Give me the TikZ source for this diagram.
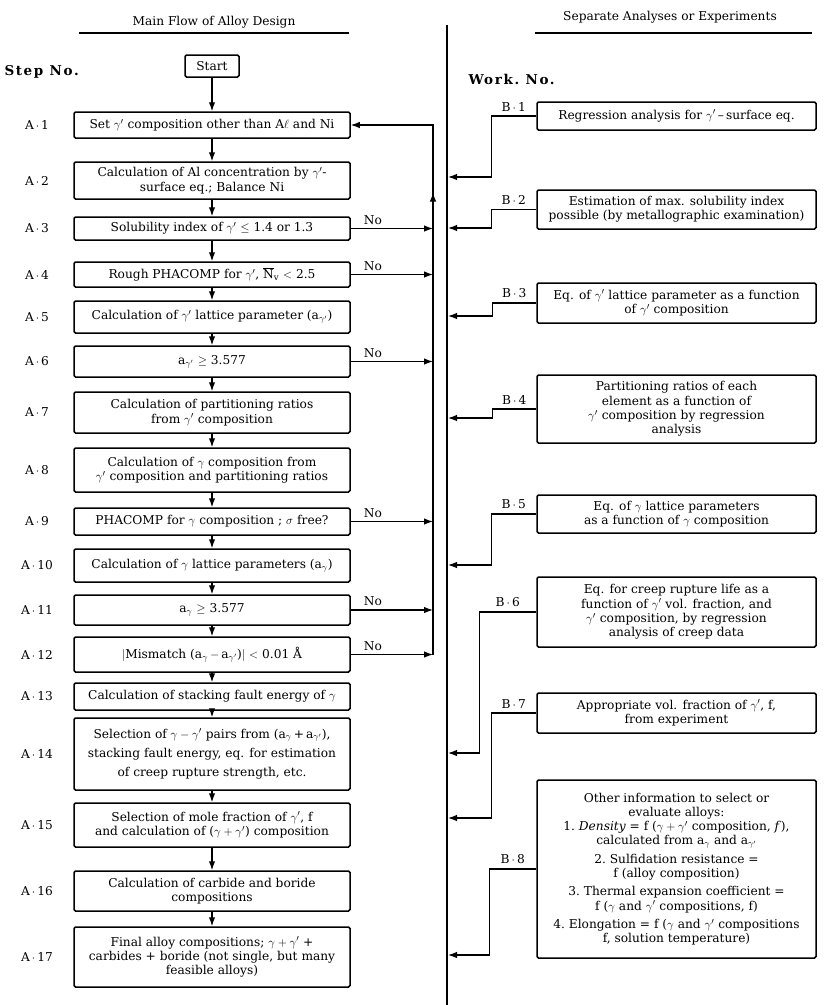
\documentclass[tikz,border=0pt]{standalone}
\usepackage{amsmath, amssymb}
\usepackage{fontspec}
\setmainfont{DejaVu Serif}
\usepackage{tikz}
\usetikzlibrary{arrows.meta, decorations.markings}

\tikzset{
  mainbox/.style={draw, line width=1.5pt, rounded corners=1.5pt, minimum width=276pt, align=center, inner sep=1pt},
  workbox/.style={mainbox, minimum width=279pt},
  flow/.style={->, line width=1.2pt},
  nolbl/.style={above, pos=0.27},
  wlbl/.style={above, yshift=1pt},
  headlbl/.style={font=\fontsize{13.5}{15}\selectfont\bfseries\addfontfeature{LetterSpace=12}},
  uparrow/.style={postaction={decorate}, decoration={markings, mark=at position 462pt with {\arrow{>}}}}
}

\begin{document}
\begin{tikzpicture}[x=1pt, y=-1pt, >={Latex[length=9pt, width=6.5pt]}, font=\fontsize{12.2}{14.3}\selectfont]
      \useasboundingbox (0,0) rectangle (825,1005);

      % Column headings
      \node (mainhd) at (214,22) {Main Flow of Alloy Design};
      \draw[line width=1.3pt] (79,33) -- (349,33);
      \node (workhd) at (670,17) {Separate Analyses or Experiments};
      \draw[line width=1.3pt] (535,33) -- (812,33);
      \node[headlbl, anchor=west] (stephd) at (1,72) {Step No.};
      \node[headlbl, anchor=west] (workno) at (465,79) {Work.\ No.};

      % Dividing line and return line
      \coordinate (divtop) at (447,25);
      \coordinate (divbot) at (447,1005);
      \coordinate (loop) at (433,0);
      \coordinate (stepcol) at (37,0);
      \draw[line width=1.9pt] (divtop) -- (divbot);

      % Main flow
      \node[mainbox, minimum width=54pt, minimum height=22pt] (start) at (212,66) {Start};
      \node[mainbox, minimum height=26pt] (a1) at (212,125) {Set $\gamma'$ composition other than A$\ell$ and Ni};
      \node[mainbox, minimum height=37pt] (a2) at (212,180.5) {Calculation of Al concentration by $\gamma'$-\\surface eq.; Balance Ni};
      \node[mainbox, minimum height=23pt] (a3) at (212,228.5) {Solubility index of $\gamma'$ $\leq$ 1.4 or 1.3};
      \node[mainbox, minimum height=25pt] (a4) at (212,274.5) {Rough PHACOMP for $\gamma'$, $\overline{\mbox{N}}_{\mathrm{v}}$ $<$ 2.5};
      \node[mainbox, minimum height=32pt] (a5) at (212,317) {Calculation of $\gamma'$ lattice parameter (a$_{\gamma'}$)};
      \node[mainbox, minimum height=31pt] (a6) at (212,361.5) {a$_{\gamma'}$ $\geq$ 3.577};
      \node[mainbox, minimum height=41pt] (a7) at (212,412.5) {Calculation of partitioning ratios\\from $\gamma'$ composition};
      \node[mainbox, minimum height=44pt] (a8) at (212,470) {Calculation of $\gamma$ composition from\\$\gamma'$ composition and partitioning ratios};
      \node[mainbox, minimum height=27pt] (a9) at (212,521.5) {PHACOMP for $\gamma$ composition ; $\sigma$ free?};
      \node[mainbox, minimum height=33pt] (a10) at (212,565.5) {Calculation of $\gamma$ lattice parameters (a$_\gamma$)};
      \node[mainbox, minimum height=30pt] (a11) at (212,610) {a$_\gamma$ $\geq$ 3.577};
      \node[mainbox, minimum height=35pt] (a12) at (212,654.5) {$|$Mismatch (a$_\gamma$\,$-$\,a$_{\gamma'}$)$|$ $<$ 0.01 Å};
      \node[mainbox, minimum height=27pt] (a13) at (212,696.5) {Calculation of stacking fault energy of $\gamma$};
      \node[mainbox, minimum height=72pt] (a14) at (212,754) {Selection of $\gamma-\gamma'$ pairs from (a$_\gamma$\,+\,a$_{\gamma'}$),\\[5pt]stacking fault energy, eq. for estimation\\[5pt]of creep rupture strength, etc.};
      \node[mainbox, minimum height=44pt] (a15) at (212,825) {Selection of mole fraction of $\gamma'$, f\\and calculation of ($\gamma+\gamma'$) composition};
      \node[mainbox, minimum height=40pt] (a16) at (212,891) {Calculation of carbide and boride\\compositions};
      \node[mainbox, minimum height=60pt] (a17) at (212,957) {Final alloy compositions; $\gamma+\gamma'$ +\\carbides + boride (not single, but many\\feasible alloys)};

      % Step numbers
      \node (s1) at (a1 -| stepcol) {A$\,\cdot\,$1};
      \node (s2) at (a2 -| stepcol) {A$\,\cdot\,$2};
      \node (s3) at (a3 -| stepcol) {A$\,\cdot\,$3};
      \node (s4) at (a4 -| stepcol) {A$\,\cdot\,$4};
      \node (s5) at (a5 -| stepcol) {A$\,\cdot\,$5};
      \node (s6) at (a6 -| stepcol) {A$\,\cdot\,$6};
      \node (s7) at (a7 -| stepcol) {A$\,\cdot\,$7};
      \node (s8) at (a8 -| stepcol) {A$\,\cdot\,$8};
      \node (s9) at (a9 -| stepcol) {A$\,\cdot\,$9};
      \node (s10) at (a10 -| stepcol) {A$\,\cdot\,$10};
      \node (s11) at (a11 -| stepcol) {A$\,\cdot\,$11};
      \node (s12) at (a12 -| stepcol) {A$\,\cdot\,$12};
      \node (s13) at (a13 -| stepcol) {A$\,\cdot\,$13};
      \node (s14) at (a14 -| stepcol) {A$\,\cdot\,$14};
      \node (s15) at (a15 -| stepcol) {A$\,\cdot\,$15};
      \node (s16) at (a16 -| stepcol) {A$\,\cdot\,$16};
      \node (s17) at (a17 -| stepcol) {A$\,\cdot\,$17};

      % Downward arrows
      \draw[flow] (start) -- (a1);
      \draw[flow] (a1) -- (a2);
      \draw[flow] (a2) -- (a3);
      \draw[flow] (a3) -- (a4);
      \draw[flow] (a4) -- (a5);
      \draw[flow] (a5) -- (a6);
      \draw[flow] (a6) -- (a7);
      \draw[flow] (a7) -- (a8);
      \draw[flow] (a8) -- (a9);
      \draw[flow] (a9) -- (a10);
      \draw[flow] (a10) -- (a11);
      \draw[flow] (a11) -- (a12);
      \draw[flow] (a12) -- (a13);
      \draw[flow] (a13) -- (a14);
      \draw[flow] (a14) -- (a15);
      \draw[flow] (a15) -- (a16);
      \draw[flow] (a16) -- (a17);

      % No branches back to A-1
      \draw[flow] (a3) -- node[nolbl] {No} (a3 -| loop);
      \draw[flow] (a4) -- node[nolbl] {No} (a4 -| loop);
      \draw[flow] (a6) -- node[nolbl] {No} (a6 -| loop);
      \draw[flow] (a9) -- node[nolbl] {No} (a9 -| loop);
      \draw[flow] (a11) -- node[nolbl] {No} (a11 -| loop);
      \draw[flow] (a12) -- node[nolbl] {No} (a12 -| loop);
      \draw[flow, uparrow] (a12 -| loop) -- (a1 -| loop) -- (a1);

      % Separate works
      \node[workbox, minimum height=28pt] (b1) at (676.5,116) {Regression analysis for $\gamma'$\,--\,surface eq.};
      \node[workbox, minimum height=39pt] (b2) at (676.5,209.5) {Estimation of max. solubility index\\possible (by metallographic examination)};
      \node[workbox, minimum height=40pt] (b3) at (676.5,303) {Eq. of $\gamma'$ lattice parameter as a function\\of $\gamma'$ composition};
      \node[workbox, minimum height=68pt] (b4) at (676.5,409) {Partitioning ratios of each\\element as a function of\\$\gamma'$ composition by regression\\analysis};
      \node[workbox, minimum height=38pt] (b5) at (676.5,514) {Eq. of $\gamma$ lattice parameters\\as a function of $\gamma$ composition};
      \node[workbox, minimum height=70pt] (b6) at (676.5,612) {Eq. for creep rupture life as a\\function of $\gamma'$ vol. fraction, and\\$\gamma'$ composition, by regression\\analysis of creep data};
      \node[workbox, minimum height=40pt] (b7) at (676.5,713) {Appropriate vol. fraction of $\gamma'$, f,\\from experiment};
      \node[workbox, minimum height=178pt] (b8) at (676.5,869) {Other information to select or\\evaluate alloys:\\1.\ \textit{Density} = f ($\gamma+\gamma'$ composition, \textit{f}),\\calculated from a$_\gamma$ and a$_{\gamma'}$\\[4pt]2.\ Sulfidation resistance =\\f (alloy composition)\\[4pt]3.\ Thermal expansion coefficient =\\f ($\gamma$ and $\gamma'$ compositions, f)\\[4pt]4.\ Elongation = f ($\gamma$ and $\gamma'$ compositions\\f, solution temperature)};

      % Feeds into the main flow
      \coordinate (in1) at (448,177);
      \coordinate (in2) at (448,228);
      \coordinate (in3) at (448,316);
      \coordinate (in4) at (448,418);
      \coordinate (in5) at (448,565);
      \coordinate (in6) at (448,753);
      \coordinate (in7) at (448,818);
      \coordinate (in8) at (448,955);
      \draw[flow] (b1.west) -- node[wlbl] {B$\,\cdot\,$1} ++(-45,0) |- (in1);
      \draw[flow] (b2.west) -- node[wlbl] {B$\,\cdot\,$2} ++(-45,0) |- (in2);
      \draw[flow] (b3.west) -- node[wlbl] {B$\,\cdot\,$3} ++(-44,0) |- (in3);
      \draw[flow] (b4.west) -- node[wlbl] {B$\,\cdot\,$4} ++(-44,0) |- (in4);
      \draw[flow] (b5.west) -- node[wlbl] {B$\,\cdot\,$5} ++(-45,0) |- (in5);
      \draw[flow] (b6.west) -- node[wlbl] {B$\,\cdot\,$6} ++(-57,0) |- (in6);
      \draw[flow] (b7.west) -- node[wlbl] {B$\,\cdot\,$7} ++(-45,0) |- (in7);
      \draw[flow] (b8.west) -- node[wlbl] {B$\,\cdot\,$8} ++(-47,0) |- (in8);
    \end{tikzpicture}
\end{document}
